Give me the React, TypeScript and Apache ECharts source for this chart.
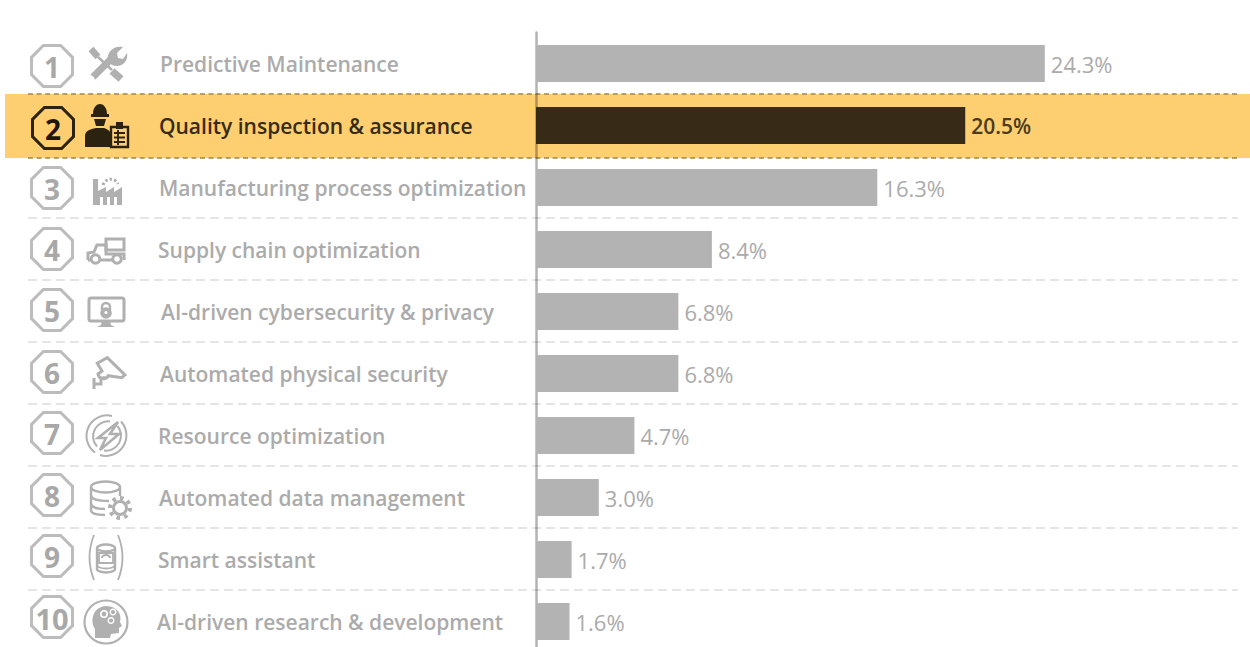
import React, { useEffect, useRef } from "react";
import * as echarts from "echarts";

// Survey results: share of use cases per application area
const categories = [
  "Predictive Maintenance",
  "Quality inspection & assurance",
  "Manufacturing process optimization",
  "Supply chain optimization",
  "AI-driven cybersecurity & privacy",
  "Automated physical security",
  "Resource optimization",
  "Automated data management",
  "Smart assistant",
  "AI-driven research & development",
];
const shares = [24.3, 20.5, 16.3, 8.4, 6.8, 6.8, 4.7, 3.0, 1.7, 1.6];
const ranks = ["1", "2", "3", "4", "5", "6", "7", "8", "9", "10"];
const highlightedIndex = 1;

// Layout constants
const GREY_BAR = "#b3b3b3";
const GREY_TEXT = "#ababab";
const GREY_ICON = "#b0b0b0";
const DARK = "#372b17";
const BAND = "#fecf70";
const FONT = '"Open Sans", sans-serif';
const labelIndent = [3, 2, 2, 1, 4, 3, 1, 2, 1, 0];
const badgeCentreY = [66, 128, 188, 249, 310, 372, 433, 495, 556, 617];
const ruleYs = [218, 280, 342, 404, 466, 528, 590];

const ring = (cx: number, cy: number, r: number) =>
  `M${cx - r} ${cy} A${r} ${r} 0 1 1 ${cx + r} ${cy} A${r} ${r} 0 1 1 ${cx - r} ${cy} Z`;

type Part = { d: string; fill?: string; lw?: number; stroke?: string; dash?: number[] };
type Icon = { x: number; y: number; parts: Part[] };

const PAPER = "__paper";
const INK = "__ink";

// Pictograms for each row, in local coordinates from the icon's origin
const icons: Icon[] = [
  {
    x: 88,
    y: 46,
    parts: [
      { d: "M3 3 L10 11", lw: 6.5 },
      { d: "M10 11 L24 24", lw: 2.5 },
      { d: "M24 25 L33 33", lw: 7.5 },
      { d: "M5 31 L25 11", lw: 7 },
      { d: "M20 15 C18 6 26 -1 35 1 L29 7 L30 12 L35 13 L39 7 C41 15 33 23 24 19 Z", fill: INK },
      { d: ring(4.5, 31.5, 1.3), fill: PAPER },
    ],
  },
  {
    x: 85,
    y: 102,
    parts: [
      { d: "M8 12 C8 5 12 2 15 2 C18 2 22 5 22 12 L24 12 L24 15 L6 15 L6 12 Z", fill: INK },
      { d: "M9 17 L21 17 L19 24 L11 24 Z", fill: INK },
      { d: "M0 34 C0 29 5 27 11 26 L19 26 C22 27 24 28 25 30 L25 45 L0 45 Z", fill: INK },
      { d: "M26 25 H43 V45 H26 Z", lw: 2.4 },
      { d: "M31 20 H38 V27 H31 Z", fill: INK },
      { d: "M29 31 H40 M29 35.5 H40 M29 40 H40 M33 28 V43", lw: 1.9 },
    ],
  },
  {
    x: 93,
    y: 178,
    parts: [
      { d: "M0 27 V1 H5 V13 L13 9 V14 L21 9 V14 L29 9 V27 Z", fill: INK },
      { d: "M7 19 h3 v8 h-3z M14 19 h3 v8 h-3z M21 19 h3 v8 h-3z", fill: PAPER },
      { d: "M10 7 A8 8 0 0 1 25 6", lw: 3, dash: [2.5, 2] },
    ],
  },
  {
    x: 87,
    y: 238,
    parts: [
      { d: "M19 1 H37 V12 H19 Z", lw: 3 },
      { d: "M1 22 V15 L7 14 L10 7 H19 V16 H37 V22 M25 22 H13 M4 22 H1", lw: 3 },
      { d: ring(8.5, 21, 4.3), lw: 3 },
      { d: ring(30, 21, 4.3), lw: 3 },
    ],
  },
  {
    x: 88,
    y: 297,
    parts: [
      { d: "M3 1 H34 Q36 1 36 3 V22 Q36 24 34 24 H3 Q1 24 1 22 V3 Q1 1 3 1 Z", lw: 3 },
      { d: "M14 24 H22 L23 28 L27 30 H9 L13 28 Z", fill: INK },
      { d: "M14 13 V10 A4 4 0 0 1 22 10 V13", lw: 2.4 },
      { d: ring(18, 16, 5.8), fill: INK },
      { d: ring(18, 15.5, 1.6), fill: PAPER },
    ],
  },
  {
    x: 93,
    y: 357,
    parts: [
      { d: "M4.3 6.3 L14.3 0.7 L32 18 L28.7 20.7 L15.3 18.7 A5.5 5.5 0 0 1 5 17 L9 14 Z", lw: 3 },
      { d: "M1 21 V32 M1 27 H8 V22 L12 20", lw: 3 },
    ],
  },
  {
    x: 107,
    y: 436,
    parts: [
      { d: "M11 -14 L-9 2 L-1 2 L-7 14 L12 -2 L3 -2 Z", lw: 2.6 },
      { d: "M5 -20 A20.5 20.5 0 0 0 -12 16.5", lw: 2 },
      { d: "M3 -14.5 A15 15 0 0 0 -10 10.5", lw: 2 },
      { d: "M14 -14.5 A20.5 20.5 0 0 1 -7 19", lw: 2 },
      { d: "M10.5 -10 A15 15 0 0 1 -3 14.5", lw: 2 },
    ],
  },
  {
    x: 90,
    y: 480,
    parts: [
      {
        d: "M1 7 A14.5 5.5 0 0 1 30 7 A14.5 5.5 0 0 1 1 7 M1 7 V30 C1 33 6 35 15 35 M1 15 C1 19 8 21 19 21 M1 23 C1 27 6 29 15 29 M30 7 V16",
        lw: 2.4,
      },
      { d: ring(30, 28, 6.5), lw: 3 },
      { d: ring(30, 28, 10), lw: 4, dash: [3.6, 4.2] },
    ],
  },
  {
    x: 89,
    y: 535,
    parts: [
      { d: "M5 0 C-1 15 -1 30 5 45 M29 0 C35 15 35 30 29 45", lw: 1.8 },
      { d: "M8 13 A9 3.5 0 0 1 26 13 A9 3.5 0 0 1 8 13 M8 13 V34 A9 3.5 0 0 0 26 34 V13", lw: 2.4 },
      { d: "M10 18 H24 V28 H10 Z M8 30 A9 3.5 0 0 0 26 30", lw: 1.8 },
      { d: "M13 23 A4 3 0 0 1 21 23", lw: 2 },
    ],
  },
  {
    x: 106,
    y: 622,
    parts: [
      { d: ring(0, 0, 21.5), lw: 2.2 },
      { d: "M-11 16 V7 C-16 0 -14 -15 0 -16 C12 -16 16 -7 14 0 L16 4 L13 6 V11 L5 12 L4 16 Z", fill: INK },
      { d: ring(-2, -8, 3.2), lw: 1.6, stroke: PAPER },
      { d: ring(7, -10, 2.8), lw: 1.4, stroke: PAPER },
      { d: ring(5, -1.5, 2.8), lw: 1.4, stroke: PAPER },
    ],
  },
];

icons.forEach((icon, i) =>
  icon.parts.forEach((part, j) =>
    echarts.graphic.registerShape(`icon-${i}-${j}`, echarts.graphic.extendPath(part.d, {}))
  )
);

const octagon = (cx: number, cy: number): number[][] => {
  const rx = 20.5;
  const ry = 20.5;
  const k = 0.42;
  return [
    [cx - rx * k, cy - ry],
    [cx + rx * k, cy - ry],
    [cx + rx, cy - ry * k],
    [cx + rx, cy + ry * k],
    [cx + rx * k, cy + ry],
    [cx - rx * k, cy + ry],
    [cx - rx, cy + ry * k],
    [cx - rx, cy - ry * k],
  ];
};

const buildGraphics = () => {
  const elements: any[] = [
    {
      type: "rect",
      z: 0,
      shape: { x: 5, y: 94, width: 1245, height: 64 },
      style: { fill: BAND },
      silent: true,
    },
  ];
  [94, 158].forEach((y) =>
    elements.push({
      type: "line",
      z: 0,
      shape: { x1: 28, y1: y, x2: 1238, y2: y },
      style: { stroke: "#a38847", lineWidth: 1.6, lineDash: [5, 3.6] },
      silent: true,
    })
  );
  ruleYs.forEach((y) =>
    elements.push({
      type: "line",
      z: 0,
      shape: { x1: 28, y1: y, x2: 1238, y2: y },
      style: { stroke: "#dddddd", lineWidth: 1.4, lineDash: [9, 5] },
      silent: true,
    })
  );
  ranks.forEach((rank, i) => {
    const active = i === highlightedIndex;
    const cx = active ? 53 : 52;
    const cy = badgeCentreY[i];
    elements.push({
      type: "polygon",
      z: 3,
      shape: { points: octagon(cx, cy) },
      style: {
        fill: active ? "transparent" : "#ffffff",
        stroke: active ? "#2b2210" : "#bcbcbc",
        lineWidth: 3,
      },
      silent: true,
    });
    elements.push({
      type: "text",
      z: 4,
      x: cx,
      y: cy + 1,
      style: {
        text: rank,
        fill: active ? "#1f180a" : "#a8a8a8",
        font: `700 ${rank.length > 1 ? 29 : 28}px ${FONT}`,
        textAlign: "center",
        textVerticalAlign: "middle",
      },
      silent: true,
    });
  });
  icons.forEach((icon, i) => {
    const ink = i === highlightedIndex ? "#2b2210" : GREY_ICON;
    const paper = i === highlightedIndex ? BAND : "#ffffff";
    const resolve = (c?: string) => (c === INK ? ink : c === PAPER ? paper : c);
    icon.parts.forEach((part, j) => {
      const filled = part.fill !== undefined;
      elements.push({
        type: `icon-${i}-${j}`,
        z: 3,
        x: icon.x,
        y: icon.y,
        style: {
          fill: filled ? resolve(part.fill) : "none",
          stroke: filled ? "none" : resolve(part.stroke) ?? ink,
          lineWidth: part.lw ?? 0,
          lineDash: part.dash,
        },
        silent: true,
      });
    });
  });
  return elements;
};

export default function App() {
  const ref = useRef<HTMLDivElement>(null);

  useEffect(() => {
    document.body.style.margin = "0";
    const chart = echarts.init(ref.current!, undefined, { renderer: "svg" });
    const rich: Record<string, any> = {};
    categories.forEach((_, i) => {
      rich[`row${i}`] = {
        fontFamily: FONT,
        fontSize: 21,
        fontWeight: 600,
        color: i === highlightedIndex ? DARK : GREY_TEXT,
        padding: [0, 0, 0, labelIndent[i]],
      };
    });
    chart.setOption({
      animation: false,
      backgroundColor: "#ffffff",
      graphic: { elements: buildGraphics() },
      grid: { left: 536, right: 0, top: 32.5, height: 620, containLabel: false },
      xAxis: { type: "value", min: 0, max: 34.1, show: false },
      yAxis: {
        type: "category",
        inverse: true,
        data: categories,
        z: 1,
        axisTick: { show: false },
        axisLine: { lineStyle: { color: "rgba(0,0,0,0.3)", width: 2.5 } },
        splitLine: { show: false },
        axisLabel: {
          interval: 0,
          align: "left",
          margin: 379,
          formatter: (value: string, index: number) => `{row${index}|${value}}`,
          rich,
        },
      },
      series: [
        {
          type: "bar",
          barWidth: 37,
          data: shares.map((value, i) => ({
            value,
            itemStyle: { color: i === highlightedIndex ? DARK : GREY_BAR },
            label: {
              color: i === highlightedIndex ? "#4a3b1f" : GREY_TEXT,
              fontWeight: i === highlightedIndex ? 600 : 400,
              fontSize: i === highlightedIndex ? 21 : 22,
            },
          })),
          label: {
            show: true,
            position: "right",
            distance: 6,
            fontFamily: FONT,
            fontSize: 22,
            formatter: (p: any) => `${Number(p.value).toFixed(1)}%`,
          },
        },
      ],
    });
    return () => chart.dispose();
  }, []);

  // The chart is a little taller than the page, so the last row keeps its full band height
  return (
    <div style={{ width: 1250, height: 647, overflow: "hidden" }}>
      <div ref={ref} style={{ width: 1250, height: 660 }} />
    </div>
  );
}
